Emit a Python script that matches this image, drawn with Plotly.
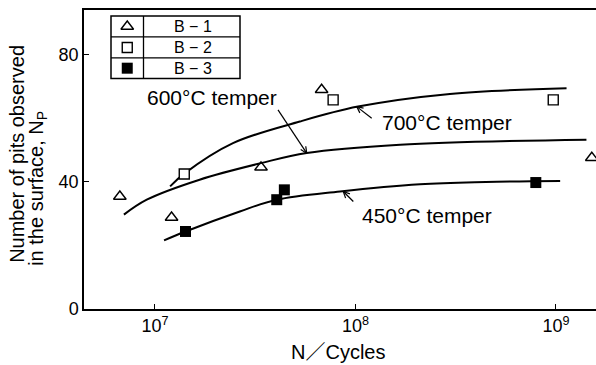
import math
import plotly.graph_objects as go

# ---- data ----
b1_n = [6.68e6, 1.21e7, 3.38e7, 6.78e7, 1.51e9]
b1_np = [35.4, 28.8, 44.6, 69.0, 47.6]
b2_n = [1.40e7, 7.74e7, 9.70e8]
b2_np = [42.5, 65.8, 65.8]
b3_n = [1.42e7, 4.05e7, 4.42e7, 7.94e8]
b3_np = [24.4, 34.4, 37.5, 39.8]

c700_n = [1.19e7, 1.40e7, 2.45e7, 5.28e7, 1.03e8, 2.96e8, 1.13e9]
c700_np = [38.6, 42.6, 52.2, 59.0, 63.7, 67.7, 69.5]
c600_n = [7.0e6, 9.1e6, 1.67e7, 3.38e7, 5.71e7, 1.67e8, 1.42e9]
c600_np = [29.7, 34.4, 40.7, 45.9, 49.1, 51.7, 53.3]
c450_n = [1.11e7, 1.42e7, 2.65e7, 4.05e7, 8.38e7, 2.10e8, 4.47e8, 1.05e9]
c450_np = [21.6, 24.4, 30.7, 34.4, 37.0, 39.3, 40.0, 40.3]

legend_names = ["B − 1", "B − 2", "B − 3"]
curve_labels = ["600°C temper", "700°C temper", "450°C temper"]
x_ticks = [1e7, 1e8, 1e9]
x_ticktext = ["10<sup>7</sup>", "10<sup>8</sup>", "10<sup>9</sup>"]
y_ticks = [0, 40, 80]

W, H = 596, 365
ML, MR, MT, MB = 84, 0, 10, 56
Y0PX, YTPX = 309.3, 10
PW, PH = W - ML - MR, Y0PX - YTPX
FONT = "Liberation Sans, Arial, Noto Sans CJK JP, sans-serif"


def paper_x(px):
    return (px - ML) / PW


def paper_y(py):
    return (Y0PX - py) / PH


fig = go.Figure()

curve_style = dict(mode="lines", line=dict(color="black", width=2, shape="spline", smoothing=1.0),
                   showlegend=False, hoverinfo="skip")
fig.add_trace(go.Scatter(x=c700_n, y=c700_np, **curve_style))
fig.add_trace(go.Scatter(x=c600_n, y=c600_np, **curve_style))
fig.add_trace(go.Scatter(x=c450_n, y=c450_np, **curve_style))

fig.add_trace(go.Scatter(x=b1_n, y=b1_np, mode="markers", cliponaxis=False, showlegend=False,
                         marker=dict(symbol="triangle-up-open", size=11, color="black", line=dict(width=1.4))))
fig.add_trace(go.Scatter(x=b2_n, y=b2_np, mode="markers", cliponaxis=False, showlegend=False,
                         marker=dict(symbol="square", size=10, color="white", line=dict(width=1.4, color="black"))))
fig.add_trace(go.Scatter(x=b3_n, y=b3_np, mode="markers", cliponaxis=False, showlegend=False,
                         marker=dict(symbol="square", size=11, color="black", line=dict(width=0))))

# ---- legend table drawn in pixel space on overlay axes ----
box_l, box_r, box_div = 111, 240, 143.5
row_edges = [16, 37, 58, 78.5]
shapes = []
shapes.append(dict(type="rect", xref="x2", yref="y2", x0=box_l, x1=box_r, y0=row_edges[0], y1=row_edges[-1],
                   line=dict(color="black", width=1.5)))
shapes.append(dict(type="line", xref="x2", yref="y2", x0=box_div, x1=box_div, y0=row_edges[0], y1=row_edges[-1],
                   line=dict(color="black", width=1.3)))
for yy in row_edges[1:-1]:
    shapes.append(dict(type="line", xref="x2", yref="y2", x0=box_l, x1=box_r, y0=yy, y1=yy,
                       line=dict(color="black", width=1.3)))

row_mid = [(row_edges[i] + row_edges[i + 1]) / 2 for i in range(3)]
mx = (box_l + box_div) / 2
sym = ["triangle-up-open", "square", "square"]
fills = ["black", "white", "black"]
sizes = [11, 10, 11]
lw = [1.4, 1.4, 0]
for i in range(3):
    fig.add_trace(go.Scatter(x=[mx], y=[row_mid[i]], xaxis="x2", yaxis="y2", mode="markers", showlegend=False,
                             hoverinfo="skip",
                             marker=dict(symbol=sym[i], size=sizes[i], color=fills[i],
                                         line=dict(width=lw[i], color="black"))))

CENTER = dict(xref="paper", yref="paper", xanchor="center", yanchor="middle", showarrow=False)

annotations = []
for i, name in enumerate(legend_names):
    annotations.append(dict(x=paper_x((box_div + box_r) / 2 + 1), y=paper_y(row_mid[i] + 0.5), text=name,
                            font=dict(size=16, color="black", family=FONT), **CENTER))

# ---- curve labels ----
lab_font = dict(size=21, color="black", family=FONT)
label_pos = [(212, 98), (446.7, 122.7), (426.7, 216)]  # pixel centres
for txt, (px, py) in zip(curve_labels, label_pos):
    annotations.append(dict(x=paper_x(px), y=paper_y(py), text=txt, font=lab_font, **CENTER))

# ---- pointer arrows (pixel space): tail -> tip ----
arrows = [((278, 110), (306.7, 153.3)), ((371.7, 118.3), (356.7, 106.7)), ((353.3, 201.7), (343.3, 191.7))]
for (tx, ty), (hx, hy) in arrows:
    shapes.append(dict(type="line", xref="x2", yref="y2", x0=tx, y0=ty, x1=hx, y1=hy,
                       line=dict(color="black", width=1.2)))
    ang = math.atan2(ty - hy, tx - hx)
    for d in (0.45, -0.45):
        ex = hx + 7 * math.cos(ang + d)
        ey = hy + 7 * math.sin(ang + d)
        shapes.append(dict(type="line", xref="x2", yref="y2", x0=hx, y0=hy, x1=ex, y1=ey,
                           line=dict(color="black", width=1.2)))

# ---- axis titles ----
title_font = dict(size=20, color="black", family=FONT)
annotations += [
    dict(x=paper_x(17), y=paper_y(154), text="Number of pits observed",
         textangle=-90, font=title_font, **CENTER),
    dict(x=paper_x(38), y=paper_y(189), text="in the surface, N<sub>P</sub>",
         textangle=-90, font=title_font, **CENTER),
    dict(x=paper_x(338), y=paper_y(352), text="N／Cycles", font=title_font, **CENTER),
]

fig.update_layout(
    width=W, height=H,
    margin=dict(l=ML, r=MR, t=MT, b=MB),
    paper_bgcolor="white", plot_bgcolor="white",
    font=dict(family=FONT, color="black"),
    xaxis=dict(type="log", range=[6.646, 9.2], tickvals=x_ticks, ticktext=x_ticktext,
               ticks="inside", ticklen=5, tickwidth=1.2, tickcolor="black",
               showline=True, linecolor="black", linewidth=1.5, mirror=True,
               showgrid=False, zeroline=False, tickfont=dict(size=18, family=FONT)),
    yaxis=dict(range=[0, 94.1], tickvals=y_ticks, ticks="inside", ticklen=5, tickwidth=1.2,
               tickcolor="black", showline=True, linecolor="black", linewidth=1.5, mirror=False,
               showgrid=False, zeroline=False, tickfont=dict(size=18, family=FONT)),
    xaxis2=dict(range=[ML, W], overlaying="x", visible=False, fixedrange=True),
    yaxis2=dict(range=[Y0PX, YTPX], overlaying="y", visible=False, fixedrange=True),
    shapes=shapes,
    annotations=annotations,
)

fig.write_html("out.html")
